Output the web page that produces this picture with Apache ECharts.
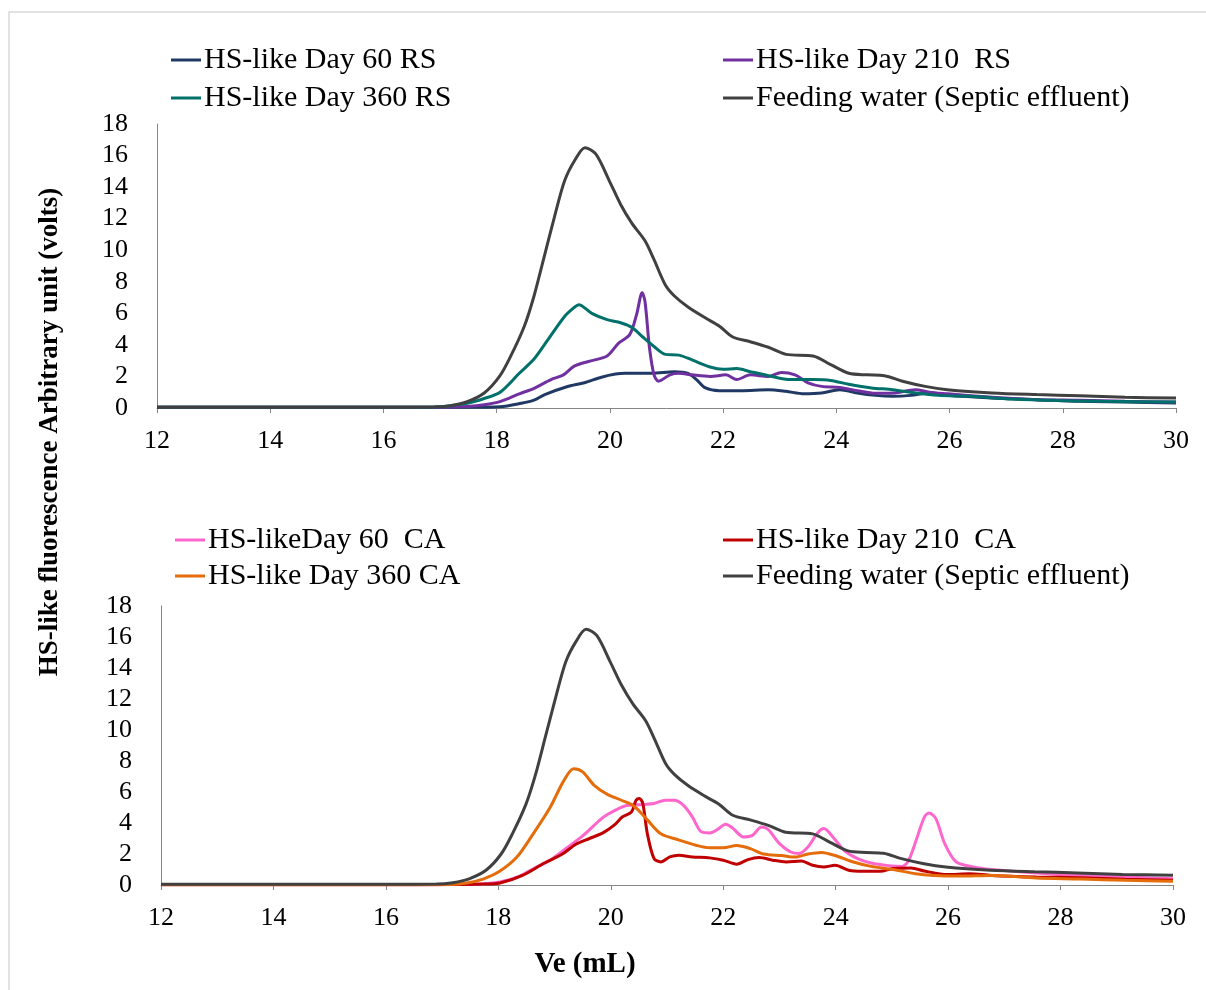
<!DOCTYPE html>
<html>
<head>
<meta charset="utf-8">
<script src="https://cdn.jsdelivr.net/npm/echarts@6/dist/echarts.min.js"></script>
<style>
  html, body { margin: 0; padding: 0; background: #fff; }
  #chart { width: 1206px; height: 990px; }
</style>
</head>
<body>
<div id="chart"></div>
<script>
// x ticks (Ve, mL) and y ticks (volts)
const xTicks = [12, 14, 16, 18, 20, 22, 24, 26, 28, 30];
const yTicks = [0, 2, 4, 6, 8, 10, 12, 14, 16, 18];

const topNames = ["HS-like Day 60 RS", "HS-like Day 210  RS", "HS-like Day 360 RS", "Feeding water (Septic effluent)"];
// trailing space keeps the lower feeding-water series apart from the upper one
const bottomNames = ["HS-likeDay 60  CA", "HS-like Day 210  CA", "HS-like Day 360 CA", "Feeding water (Septic effluent) "];

// [Ve, signal]
const feedingWater = [[12,0.05],[13,0.05],[14,0.05],[15,0.05],[16,0.05],[16.9,0.06],[17.19,0.15],[17.48,0.4],[17.78,0.95],[18.05,2.0],[18.25,3.3],[18.49,5.2],[18.66,7.1],[18.84,9.6],[19.02,12.1],[19.2,14.4],[19.38,15.7],[19.56,16.5],[19.75,16.1],[19.99,14.4],[20.19,12.9],[20.39,11.7],[20.62,10.6],[20.78,9.4],[20.98,7.8],[21.14,7.1],[21.38,6.4],[21.69,5.7],[21.93,5.2],[22.17,4.5],[22.48,4.2],[22.8,3.85],[23.11,3.4],[23.59,3.3],[23.9,2.75],[24.22,2.2],[24.54,2.1],[24.85,2.05],[25.17,1.7],[25.57,1.37],[25.96,1.16],[26.75,0.95],[27.54,0.85],[28.3,0.78],[29.1,0.68],[30,0.63]];

const day60RS = [[12,0.05],[14,0.05],[16,0.05],[17.48,0.04],[18.06,0.08],[18.43,0.3],[18.66,0.5],[18.85,0.85],[19.24,1.35],[19.55,1.6],[19.85,1.95],[20.1,2.15],[20.27,2.2],[20.74,2.2],[21.14,2.3],[21.38,2.2],[21.53,1.8],[21.69,1.27],[21.93,1.1],[22.32,1.1],[22.8,1.16],[23.11,1.06],[23.43,0.9],[23.74,0.95],[24.06,1.16],[24.37,0.95],[24.69,0.8],[25.0,0.74],[25.32,0.8],[25.64,0.95],[25.96,0.8],[26.75,0.63],[27.54,0.53],[28.3,0.42],[29.1,0.38],[30,0.32]];

const day210RS = [[12,0.05],[14,0.05],[16,0.05],[16.9,0.05],[17.48,0.1],[17.78,0.2],[18.07,0.42],[18.4,0.9],[18.66,1.25],[18.96,1.8],[19.18,2.1],[19.37,2.65],[19.62,2.95],[19.95,3.3],[20.15,4.1],[20.35,4.65],[20.47,5.9],[20.57,7.3],[20.62,6.75],[20.7,3.8],[20.78,2.1],[20.86,1.7],[21.06,2.1],[21.22,2.2],[21.45,2.1],[21.77,2.0],[22.05,2.1],[22.24,1.8],[22.48,2.1],[22.8,2.0],[23.03,2.25],[23.27,2.1],[23.5,1.6],[23.74,1.37],[24.06,1.3],[24.37,1.1],[24.69,0.93],[25.0,0.95],[25.4,1.16],[25.64,1.0],[25.96,0.9],[26.75,0.68],[27.54,0.53],[28.3,0.49],[29.1,0.42],[30,0.38]];

const day360RS = [[12,0.05],[14,0.05],[16,0.05],[16.9,0.06],[17.48,0.3],[17.78,0.6],[18.06,1.0],[18.4,2.2],[18.66,3.1],[18.9,4.3],[19.2,5.8],[19.38,6.4],[19.45,6.55],[19.68,6.0],[19.95,5.6],[20.19,5.4],[20.39,5.1],[20.58,4.5],[20.78,3.9],[20.98,3.4],[21.22,3.35],[21.45,3.05],[21.77,2.6],[22.0,2.45],[22.24,2.5],[22.48,2.3],[22.8,2.05],[23.19,1.8],[23.59,1.8],[23.9,1.75],[24.22,1.5],[24.62,1.27],[25.0,1.16],[25.4,0.95],[25.8,0.8],[26.35,0.74],[27.1,0.57],[27.9,0.47],[28.7,0.42],[30,0.38]];

const day60CA = [[12,0.02],[14,0.02],[16,0.02],[17.2,0.03],[17.74,0.08],[18.03,0.2],[18.33,0.5],[18.62,1.05],[18.92,1.6],[19.22,2.4],[19.51,3.2],[19.81,4.2],[19.94,4.55],[20.25,5.1],[20.57,5.2],[20.77,5.26],[20.97,5.47],[21.13,5.47],[21.29,5.15],[21.45,4.4],[21.61,3.43],[21.76,3.36],[21.92,3.64],[22.04,3.92],[22.16,3.7],[22.36,3.1],[22.52,3.2],[22.68,3.75],[22.8,3.58],[23.0,2.67],[23.2,2.13],[23.35,2.03],[23.51,2.46],[23.67,3.32],[23.79,3.64],[23.95,3.1],[24.15,2.24],[24.39,1.7],[24.63,1.42],[24.94,1.25],[25.18,1.2],[25.3,1.6],[25.46,3.2],[25.58,4.4],[25.66,4.65],[25.78,4.3],[25.94,2.67],[26.14,1.5],[26.45,1.16],[26.77,1.0],[27.57,0.78],[28.36,0.62],[29.16,0.52],[30,0.41]];

const day210CA = [[12,0.02],[14,0.02],[16,0.02],[17.2,0.03],[17.74,0.06],[18.03,0.13],[18.43,0.62],[18.82,1.42],[19.14,2.0],[19.38,2.63],[19.62,3.0],[19.86,3.36],[20.06,3.86],[20.21,4.4],[20.37,4.72],[20.45,5.47],[20.51,5.58],[20.57,5.26],[20.65,3.32],[20.77,1.7],[20.89,1.49],[21.05,1.81],[21.21,1.92],[21.45,1.81],[21.76,1.75],[22.0,1.6],[22.24,1.34],[22.44,1.64],[22.64,1.77],[22.88,1.6],[23.12,1.49],[23.39,1.55],[23.59,1.27],[23.79,1.16],[23.99,1.27],[24.23,0.95],[24.47,0.88],[24.79,0.88],[25.02,1.06],[25.34,1.1],[25.58,0.9],[25.98,0.67],[26.38,0.73],[26.77,0.62],[27.57,0.52],[28.36,0.47],[29.16,0.37],[30,0.3]];

const day360CA = [[12,0.02],[14,0.02],[16,0.02],[16.84,0.02],[17.14,0.03],[17.44,0.13],[17.74,0.4],[18.03,0.9],[18.33,1.8],[18.62,3.3],[18.92,5.0],[19.16,6.7],[19.34,7.5],[19.5,7.3],[19.7,6.45],[19.94,5.85],[20.17,5.5],[20.41,5.1],[20.65,4.2],[20.89,3.3],[21.21,2.9],[21.53,2.55],[21.76,2.4],[22.0,2.4],[22.24,2.55],[22.48,2.35],[22.72,2.0],[23.04,1.9],[23.28,1.8],[23.51,2.0],[23.75,2.1],[23.99,1.9],[24.3,1.5],[24.63,1.2],[25.02,1.0],[25.42,0.73],[25.74,0.62],[26.2,0.58],[26.77,0.62],[27.57,0.45],[28.36,0.39],[29.16,0.3],[30,0.24]];

const topColors = ["#1f3864", "#7030a0", "#00706b", "#404040"];
const bottomColors = ["#ff66cc", "#c00000", "#e46c0a", "#404040"];

const FONT = "'Liberation Serif', 'Times New Roman', serif";

function xAxisFor(gridIndex) {
  return {
    gridIndex, type: "value", min: xTicks[0], max: xTicks[xTicks.length - 1], interval: 2,
    axisLine: { show: true, onZero: false, lineStyle: { color: "#868686", width: 1 } },
    axisTick: { show: true, length: 5, lineStyle: { color: "#868686" } },
    axisLabel: { color: "#000", fontFamily: FONT, fontSize: 26, margin: 20 },
    splitLine: { show: false },
  };
}

function yAxisFor(gridIndex) {
  return {
    gridIndex, type: "value", min: yTicks[0], max: yTicks[yTicks.length - 1], interval: 2,
    axisLine: { show: true, lineStyle: { color: "#868686", width: 1 } },
    axisTick: { show: false },
    axisLabel: { color: "#000", fontFamily: FONT, fontSize: 26, margin: 29 },
    splitLine: { show: false },
  };
}

function lineSeries(name, data, color, idx) {
  return {
    name, type: "line", data, xAxisIndex: idx, yAxisIndex: idx,
    showSymbol: false, symbol: "none", smooth: 0.3,
    lineStyle: { color, width: 3 }, itemStyle: { color },
  };
}

function legendFor(left, top, names, gap) {
  return {
    left, top, orient: "vertical", itemGap: gap, data: names,
    icon: "rect", itemWidth: 30, itemHeight: 3,
    textStyle: { fontFamily: FONT, fontSize: 30, color: "#000", lineHeight: 30, padding: [0, 0, 0, -2] },
    selectedMode: false,
  };
}

const chart = echarts.init(document.getElementById("chart"), null, { renderer: "canvas" });
chart.setOption({
  animation: false,
  backgroundColor: "#fff",
  grid: [
    { left: 157, right: 30, top: 124, height: 284 },
    { left: 161, right: 33, top: 606, height: 279 },
  ],
  xAxis: [xAxisFor(0), xAxisFor(1)],
  yAxis: [yAxisFor(0), yAxisFor(1)],
  legend: [
    legendFor(166, 40, [topNames[0], topNames[2]], 8),
    legendFor(718, 40, [topNames[1], topNames[3]], 8),
    legendFor(170, 520, [bottomNames[0], bottomNames[2]], 6),
    legendFor(718, 520, [bottomNames[1], bottomNames[3]], 6),
  ],
  graphic: [
    { type: "rect", shape: { x: 9, y: 12, width: 1400, height: 1200 }, style: { fill: "none", stroke: "#d9d9d9", lineWidth: 1.5 }, silent: true },
    {
      type: "text", x: 50, y: 432, rotation: Math.PI / 2,
      style: { text: "HS-like fluorescence Arbitrary unit (volts)", font: "bold 27px " + FONT, fill: "#000", textAlign: "center", textVerticalAlign: "middle" },
    },
    {
      type: "text", x: 585, y: 965,
      style: { text: "Ve (mL)", font: "bold 29px " + FONT, fill: "#000", textAlign: "center", textVerticalAlign: "middle" },
    },
  ],
  series: [
    lineSeries(topNames[0], day60RS, topColors[0], 0),
    lineSeries(topNames[1], day210RS, topColors[1], 0),
    lineSeries(topNames[2], day360RS, topColors[2], 0),
    lineSeries(topNames[3], feedingWater, topColors[3], 0),
    lineSeries(bottomNames[0], day60CA, bottomColors[0], 1),
    lineSeries(bottomNames[1], day210CA, bottomColors[1], 1),
    lineSeries(bottomNames[2], day360CA, bottomColors[2], 1),
    lineSeries(bottomNames[3], feedingWater, bottomColors[3], 1),
  ],
});
</script>
</body>
</html>
